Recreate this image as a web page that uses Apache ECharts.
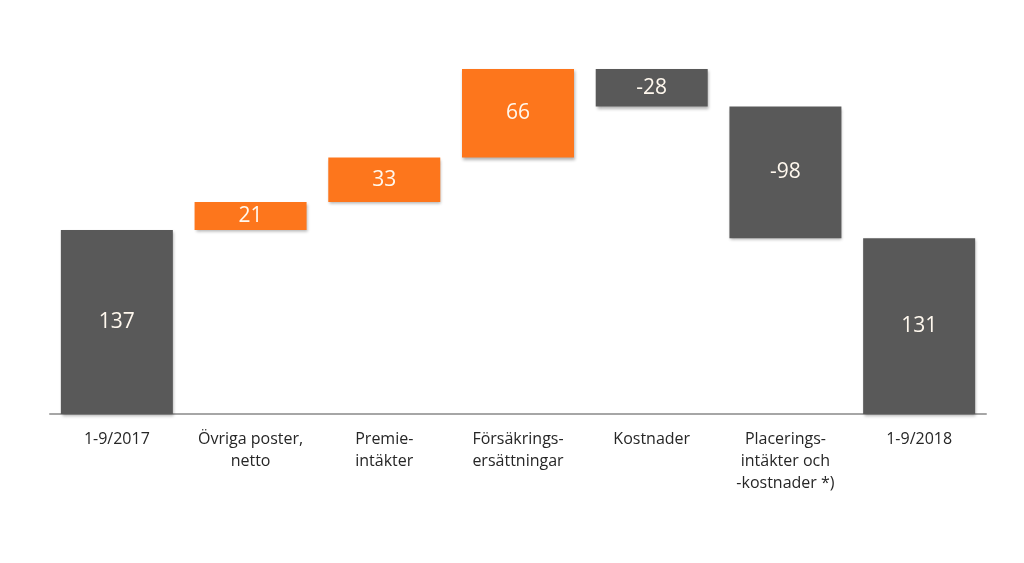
<!DOCTYPE html>
<html>
<head>
<meta charset="utf-8">
<script src="https://cdn.jsdelivr.net/npm/echarts@6/dist/echarts.min.js"></script>
<style>
  html, body { margin: 0; padding: 0; background: #fff; }
  #chart { width: 1024px; height: 563px; }
</style>
</head>
<body>
<div id="chart"></div>
<script>
// kategorier och förändringar (mkr)
const categories = [
  '1-9/2017',
  'Övriga poster,\nnetto',
  'Premie-\nintäkter',
  'Försäkrings-\nersättningar',
  'Kostnader',
  'Placerings-\nintäkter och\n-kostnader *)',
  '1-9/2018'
];
const values = [137, 21, 33, 66, -28, -98, 131];
const isTotal = [true, false, false, false, false, false, true];

const ORANGE = '#FD761C';
const GREY = '#595959';

// räkna fram osynlig bas + synlig del för vattenfallet
const base = [];
const visible = [];
let running = 0;
values.forEach((v, i) => {
  if (isTotal[i]) {
    base.push(0);
    visible.push(v);
    running = v;
  } else if (v >= 0) {
    base.push(running);
    visible.push(v);
    running += v;
  } else {
    running += v;
    base.push(running);
    visible.push(-v);
  }
});

const chart = echarts.init(document.getElementById('chart'));
chart.setOption({
  animation: false,
  grid: { left: 50, right: 38, top: 65, bottom: 149 },
  xAxis: {
    type: 'category',
    data: categories,
    axisLine: { lineStyle: { color: '#A6A6A6', width: 2 } },
    axisTick: { show: false },
    axisLabel: {
      color: '#262626',
      fontSize: 16,
      lineHeight: 22,
      margin: 14,
      interval: 0,
      fontFamily: 'Open Sans'
    }
  },
  yAxis: {
    type: 'value',
    min: 0,
    max: 260,
    show: false,
    splitLine: { show: false }
  },
  series: [
    {
      type: 'bar',
      stack: 'wf',
      data: base,
      barWidth: 112,
      itemStyle: { color: 'transparent' },
      silent: true
    },
    {
      type: 'bar',
      stack: 'wf',
      barWidth: 112,
      data: visible.map((h, i) => ({
        value: h,
        itemStyle: {
          color: (!isTotal[i] && values[i] > 0) ? ORANGE : GREY
        }
      })),
      itemStyle: {
        shadowBlur: 3,
        shadowOffsetX: 1,
        shadowOffsetY: 2,
        shadowColor: 'rgba(0,0,0,0.3)'
      },
      label: {
        show: true,
        position: 'inside',
        color: '#FFF8EE',
        fontSize: 21,
        fontFamily: 'Open Sans',
        formatter: p => String(values[p.dataIndex])
      }
    }
  ]
});
</script>
</body>
</html>
